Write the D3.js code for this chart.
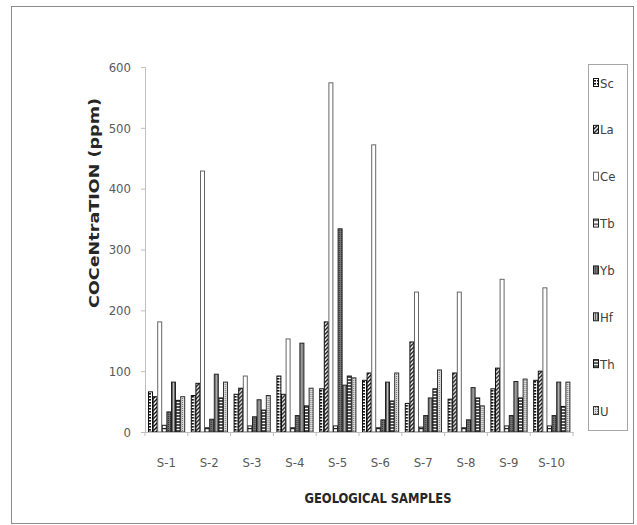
<!DOCTYPE html>
<html>
<head>
<meta charset="utf-8">
<script src="https://cdn.jsdelivr.net/npm/d3@7"></script>
<style>
  body { margin: 0; background: #fff; }
  text { font-family: "DejaVu Sans Condensed", "DejaVu Sans", sans-serif; }
</style>
</head>
<body>
<div id="chart"></div>
<script>
// categories and series
var samples = ["S-1", "S-2", "S-3", "S-4", "S-5", "S-6", "S-7", "S-8", "S-9", "S-10"];
var elements = ["Sc", "La", "Ce", "Tb", "Yb", "Hf", "Th", "U"];

var sc = [66, 60, 62, 92, 71, 85, 47, 54, 71, 85];
var la = [58, 80, 72, 62, 181, 97, 148, 97, 105, 100];
var ce = [181, 429, 92, 153, 574, 472, 230, 230, 251, 237];
var tb = [11, 7, 10, 7, 10, 7, 8, 7, 10, 10];
var yb = [33, 21, 25, 27, 334, 20, 27, 20, 27, 27];
var hf = [82, 95, 53, 146, 77, 82, 56, 73, 83, 82];
var th = [52, 56, 36, 43, 92, 51, 71, 56, 56, 42];
var u = [58, 82, 60, 72, 89, 97, 102, 43, 87, 82];

var yTicks = [0, 100, 200, 300, 400, 500, 600];

var seriesValues = [sc, la, ce, tb, yb, hf, th, u];

// one row per sample, built from the arrays above
var rows = samples.map(function (s, i) {
  var r = { sample: s };
  elements.forEach(function (e, k) { r[e] = seriesValues[k][i]; });
  return r;
});

var w = 637, h = 525;
var plotLeft = 145, plotRight = 573, plotTop = 67, plotBottom = 432;

var svg = d3.select("#chart").append("svg")
  .attr("width", w)
  .attr("height", h);

// fill patterns, roughly like the black & white Excel fills
var defs = svg.append("defs");

function pattern(id, wd, ht, bg, draw) {
  var p = defs.append("pattern")
    .attr("id", id)
    .attr("patternUnits", "userSpaceOnUse")
    .attr("width", wd)
    .attr("height", ht);
  p.append("rect").attr("width", wd).attr("height", ht).attr("fill", bg);
  draw(p);
}

pattern("p-Sc", 4, 3, "#fff", function (p) {
  p.append("rect").attr("x", 0).attr("y", 0).attr("width", 3).attr("height", 1.6).attr("fill", "#111");
});
pattern("p-La", 4, 4, "#fff", function (p) {
  p.append("path").attr("d", "M-1,5 L5,-1 M-1,1 L1,-1 M3,5 L5,3").attr("stroke", "#111").attr("stroke-width", 1.4);
});
pattern("p-Ce", 4, 4, "#fff", function () {});
pattern("p-Tb", 4, 4, "#fff", function (p) {
  p.append("rect").attr("x", 0).attr("y", 0).attr("width", 4).attr("height", 1.2).attr("fill", "#222");
});
pattern("p-Yb", 2, 2, "#777", function (p) {
  p.append("rect").attr("width", 1).attr("height", 1).attr("fill", "#333");
});
pattern("p-Hf", 2, 3, "#bdbdbd", function (p) {
  p.append("rect").attr("width", 1).attr("height", 3).attr("fill", "#666");
});
pattern("p-Th", 4, 3, "#555", function (p) {
  p.append("rect").attr("width", 4).attr("height", 1).attr("fill", "#fff");
});
pattern("p-U", 2, 2, "#dcdcdc", function (p) {
  p.append("rect").attr("width", 1).attr("height", 1).attr("fill", "#777");
});

var strokes = { Sc: "#111", La: "#111", Ce: "#666", Tb: "#222", Yb: "#222", Hf: "#222", Th: "#111", U: "#333" };

// outer frame
svg.append("rect")
  .attr("x", 11.5).attr("y", 6.5)
  .attr("width", 622).attr("height", 517)
  .attr("fill", "none")
  .attr("stroke", "#8c8c8c");

// scales
var x0 = d3.scaleBand()
  .domain(samples)
  .range([plotLeft, plotRight])
  .paddingInner(0.14)
  .paddingOuter(0.07);

var x1 = d3.scaleBand()
  .domain(elements)
  .range([0, x0.bandwidth()]);

var y = d3.scaleLinear()
  .domain([0, 600])
  .range([plotBottom, plotTop]);

// bars
var groups = svg.append("g").selectAll("g")
  .data(rows)
  .enter().append("g")
  .attr("transform", function (d) { return "translate(" + x0(d.sample) + ",0)"; });

groups.selectAll("rect")
  .data(function (d) { return elements.map(function (e) { return { key: e, value: d[e] }; }); })
  .enter().append("rect")
  .attr("x", function (d) { return x1(d.key) + 0.5; })
  .attr("y", function (d) { return y(d.value); })
  .attr("width", x1.bandwidth() - 0.6)
  .attr("height", function (d) { return y(0) - y(d.value); })
  .attr("fill", function (d) { return "url(#p-" + d.key + ")"; })
  .attr("stroke", function (d) { return strokes[d.key]; })
  .attr("stroke-width", 1);

// y axis
var yAxis = svg.append("g")
  .attr("transform", "translate(" + plotLeft + ",0)")
  .call(d3.axisLeft(y).tickValues(yTicks).tickSize(4).tickPadding(10));
yAxis.select(".domain").attr("stroke", "#bfbfbf");
yAxis.selectAll(".tick line").attr("stroke", "#bfbfbf");
yAxis.selectAll(".tick text").attr("fill", "#595959").style("font-size", "13px");

// x axis, labels centred, ticks between the categories
var xAxis = svg.append("g")
  .attr("transform", "translate(0," + plotBottom + ")")
  .call(d3.axisBottom(x0).tickSize(0).tickPadding(26));
xAxis.select(".domain").attr("stroke", "#bfbfbf");
xAxis.selectAll(".tick text").attr("fill", "#595959").style("font-size", "13px");

var edge = x0.step() * x0.paddingInner() / 2;
var bounds = samples.map(function (s) { return x0(s) - edge; }).concat([x0(samples[samples.length - 1]) + x0.bandwidth() + edge]);
xAxis.selectAll(".bound")
  .data(bounds)
  .enter().append("line")
  .attr("x1", function (d) { return d; })
  .attr("x2", function (d) { return d; })
  .attr("y1", 0).attr("y2", 4)
  .attr("stroke", "#bfbfbf");

// axis titles
svg.append("text")
  .attr("transform", "translate(99,203) rotate(-90)")
  .attr("text-anchor", "middle")
  .attr("textLength", 210)
  .attr("lengthAdjust", "spacingAndGlyphs")
  .style("font-size", "14px")
  .style("font-weight", "bold")
  .attr("fill", "#262626")
  .text("COCeNtraTION (ppm)");

svg.append("text")
  .attr("x", 378)
  .attr("y", 503)
  .attr("text-anchor", "middle")
  .attr("textLength", 147)
  .attr("lengthAdjust", "spacingAndGlyphs")
  .style("font-size", "14px")
  .style("font-weight", "bold")
  .attr("fill", "#262626")
  .text("GEOLOGICAL SAMPLES");

// legend
var legend = svg.append("g");
legend.append("rect")
  .attr("x", 588.5).attr("y", 64.5)
  .attr("width", 39).attr("height", 366)
  .attr("fill", "#fff")
  .attr("stroke", "#a6a6a6");

var ly = d3.scalePoint()
  .domain(elements)
  .range([83, 411]);

var items = legend.selectAll(".item")
  .data(elements)
  .enter().append("g")
  .attr("transform", function (d) { return "translate(593," + ly(d) + ")"; });

items.append("rect")
  .attr("x", 0.5).attr("y", -4.5)
  .attr("width", 5).attr("height", 8)
  .attr("fill", function (d) { return "url(#p-" + d + ")"; })
  .attr("stroke", function (d) { return strokes[d]; });

items.append("text")
  .attr("x", 7)
  .attr("y", 4.5)
  .attr("fill", "#404040")
  .style("font-size", "13px")
  .text(function (d) { return d; });
</script>
</body>
</html>
